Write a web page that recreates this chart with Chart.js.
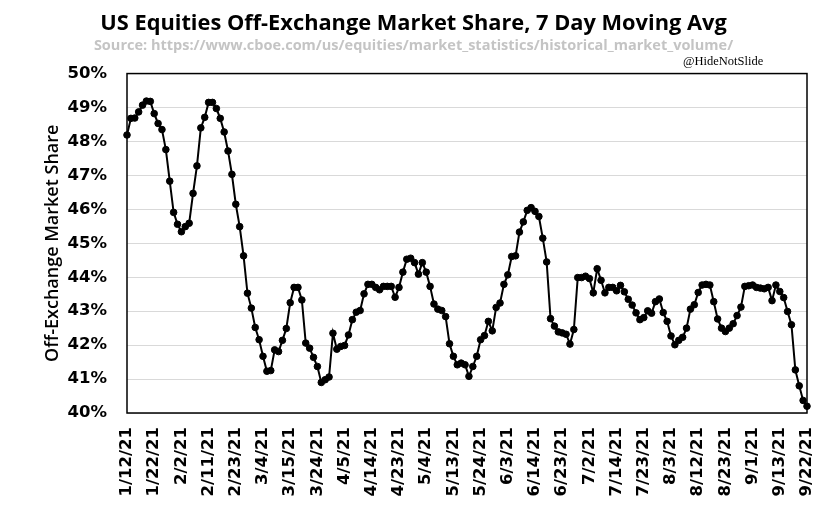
<!DOCTYPE html>
<html>
<head>
<meta charset="utf-8">
<script src="https://cdn.jsdelivr.net/npm/chart.js@4"></script>
<style>
html,body{margin:0;padding:0;background:#fff;}
canvas{display:block;}
</style>
</head>
<body>
<canvas id="c" width="827" height="525"></canvas>
<script>
// Trading days (categories), grouped by month
const datesJan = ['1/12/21','1/13/21','1/14/21','1/15/21','1/19/21','1/20/21','1/21/21','1/22/21','1/25/21','1/26/21','1/27/21','1/28/21','1/29/21'];
const datesFeb = ['2/1/21','2/2/21','2/3/21','2/4/21','2/5/21','2/8/21','2/9/21','2/10/21','2/11/21','2/12/21','2/16/21','2/17/21','2/18/21','2/19/21','2/22/21','2/23/21','2/24/21','2/25/21','2/26/21'];
const datesMar = ['3/1/21','3/2/21','3/3/21','3/4/21','3/5/21','3/8/21','3/9/21','3/10/21','3/11/21','3/12/21','3/15/21','3/16/21','3/17/21','3/18/21','3/19/21','3/22/21','3/23/21','3/24/21','3/25/21','3/26/21','3/29/21','3/30/21','3/31/21'];
const datesApr = ['4/1/21','4/5/21','4/6/21','4/7/21','4/8/21','4/9/21','4/12/21','4/13/21','4/14/21','4/15/21','4/16/21','4/19/21','4/20/21','4/21/21','4/22/21','4/23/21','4/26/21','4/27/21','4/28/21','4/29/21','4/30/21'];
const datesMay = ['5/3/21','5/4/21','5/5/21','5/6/21','5/7/21','5/10/21','5/11/21','5/12/21','5/13/21','5/14/21','5/17/21','5/18/21','5/19/21','5/20/21','5/21/21','5/24/21','5/25/21','5/26/21','5/27/21','5/28/21'];
const datesJun = ['6/1/21','6/2/21','6/3/21','6/4/21','6/7/21','6/8/21','6/9/21','6/10/21','6/11/21','6/14/21','6/15/21','6/16/21','6/17/21','6/18/21','6/21/21','6/22/21','6/23/21','6/24/21','6/25/21','6/28/21','6/29/21','6/30/21'];
const datesJul = ['7/1/21','7/2/21','7/6/21','7/7/21','7/8/21','7/9/21','7/12/21','7/13/21','7/14/21','7/15/21','7/16/21','7/19/21','7/20/21','7/21/21','7/22/21','7/23/21','7/26/21','7/27/21','7/28/21','7/29/21','7/30/21'];
const datesAug = ['8/2/21','8/3/21','8/4/21','8/5/21','8/6/21','8/9/21','8/10/21','8/11/21','8/12/21','8/13/21','8/16/21','8/17/21','8/18/21','8/19/21','8/20/21','8/23/21','8/24/21','8/25/21','8/26/21','8/27/21','8/30/21','8/31/21'];
const datesSep = ['9/1/21','9/2/21','9/3/21','9/7/21','9/8/21','9/9/21','9/10/21','9/13/21','9/14/21','9/15/21','9/16/21','9/17/21','9/20/21','9/21/21','9/22/21'];

// Off-exchange market share (%), 7 day moving average, grouped by month
const shareJan = [48.19,48.68,48.69,48.87,49.07,49.19,49.18,48.82,48.53,48.35,47.76,46.83,45.91];
const shareFeb = [45.56,45.34,45.49,45.59,46.47,47.28,48.40,48.71,49.15,49.15,48.97,48.68,48.28,47.72,47.03,46.15,45.49,44.63,43.53];
const shareMar = [43.09,42.52,42.16,41.67,41.23,41.25,41.86,41.81,42.14,42.49,43.25,43.70,43.70,43.33,42.06,41.91,41.64,41.37,40.90,40.98,41.06,42.35,41.88];
const shareApr = [41.96,41.99,42.30,42.75,42.97,43.02,43.51,43.79,43.79,43.70,43.63,43.73,43.73,43.73,43.41,43.70,44.15,44.53,44.56,44.43,44.09];
const shareMay = [44.43,44.15,43.73,43.21,43.06,43.02,42.84,42.04,41.67,41.42,41.47,41.42,41.08,41.37,41.67,42.16,42.28,42.70,42.42,43.11];
const shareJun = [43.24,43.79,44.07,44.61,44.63,45.33,45.63,45.97,46.05,45.94,45.79,45.15,44.45,42.78,42.56,42.39,42.36,42.32,42.03,42.46,43.99,43.99];
const shareJul = [44.03,43.96,43.54,44.25,43.91,43.54,43.70,43.70,43.60,43.76,43.57,43.35,43.18,42.95,42.75,42.81,43.01,42.94,43.28,43.36,42.96];
const shareAug = [42.70,42.27,42.01,42.14,42.23,42.50,43.06,43.19,43.55,43.77,43.79,43.77,43.28,42.77,42.50,42.40,42.50,42.63,42.87,43.12,43.73,43.75];
const shareSep = [43.77,43.70,43.68,43.66,43.70,43.31,43.77,43.58,43.40,42.99,42.60,41.27,40.80,40.37,40.20];

// Tick labels shown on the x axis
const tickLabels = ['1/12/21','1/22/21','2/2/21','2/11/21','2/23/21','3/4/21','3/15/21','3/24/21','4/5/21','4/14/21','4/23/21','5/4/21','5/13/21','5/24/21','6/3/21','6/14/21','6/23/21','7/2/21','7/14/21','7/23/21','8/3/21','8/12/21','8/23/21','9/1/21','9/13/21','9/22/21'];

const chartTitle = 'US Equities Off-Exchange Market Share, 7 Day Moving Avg';
const chartSubtitle = 'Source: https://www.cboe.com/us/equities/market_statistics/historical_market_volume/';
const yTitle = 'Off-Exchange Market Share';
const watermark = '@HideNotSlide';

const dates = [].concat(datesJan, datesFeb, datesMar, datesApr, datesMay, datesJun, datesJul, datesAug, datesSep);
const share = [].concat(shareJan, shareFeb, shareMar, shareApr, shareMay, shareJun, shareJul, shareAug, shareSep);

const framePlugin = {
  id: 'frame',
  beforeDatasetsDraw(chart) {
    const {ctx, chartArea: a} = chart;
    ctx.save();
    ctx.strokeStyle = '#000';
    ctx.lineWidth = 1.5;
    ctx.strokeRect(a.left, a.top, a.right - a.left, a.bottom - a.top);
    ctx.restore();
  }
};

const markPlugin = {
  id: 'mark',
  afterDraw(chart) {
    const {ctx, chartArea: a} = chart;
    ctx.save();
    ctx.font = '12.5px "Liberation Serif", serif';
    ctx.fillStyle = '#000';
    ctx.textAlign = 'left';
    ctx.textBaseline = 'alphabetic';
    ctx.fillText(watermark, a.right - 124, a.top - 9);
    ctx.restore();
  }
};

const tickFont = {family: '"DejaVu Sans", sans-serif', size: 16.5, weight: 'bold'};

new Chart(document.getElementById('c').getContext('2d'), {
  type: 'line',
  data: {
    labels: dates,
    datasets: [{
      data: share,
      borderColor: '#000',
      backgroundColor: '#000',
      borderWidth: 2,
      pointRadius: 3.3,
      pointBorderWidth: 1,
      pointBorderColor: '#000',
      pointBackgroundColor: '#000',
      pointHoverRadius: 3.3,
      tension: 0
    }]
  },
  options: {
    responsive: false,
    animation: false,
    devicePixelRatio: 1,
    layout: {padding: {left: 20, right: 20, top: 0, bottom: 0}},
    plugins: {
      legend: {display: false},
      tooltip: {enabled: false},
      title: {
        display: true,
        text: chartTitle,
        color: '#000',
        font: {family: '"Open Sans", sans-serif', size: 21.8, weight: 'bold'},
        padding: {top: 11, bottom: 0}
      },
      subtitle: {
        display: true,
        text: chartSubtitle,
        color: '#c4c4c4',
        font: {family: '"Open Sans", sans-serif', size: 14.5, weight: 'bold'},
        padding: {top: 0, bottom: 19}
      }
    },
    scales: {
      x: {
        grid: {display: false, drawTicks: false},
        border: {display: false},
        ticks: {
          autoSkip: false,
          maxRotation: 90,
          minRotation: 90,
          padding: 14,
          color: '#000',
          font: tickFont,
          callback(v, i) {
            const l = dates[i];
            return tickLabels.includes(l) ? l : '';
          }
        },
        afterFit(s) { s.height = 112; s.paddingRight = 0; s.paddingLeft = 0; }
      },
      y: {
        min: 40,
        max: 50,
        grid: {color: '#d9d9d9', lineWidth: 1, drawTicks: false},
        border: {display: false},
        ticks: {
          stepSize: 1,
          padding: 20,
          color: '#000',
          font: tickFont,
          callback: v => v + '%'
        },
        title: {
          display: true,
          text: yTitle,
          color: '#000',
          font: {family: '"Open Sans", sans-serif', size: 18, weight: '600'},
          padding: {top: 22, bottom: 0}
        },
        afterFit(s) { s.width = 107; }
      }
    }
  },
  plugins: [framePlugin, markPlugin]
});
</script>
</body>
</html>
